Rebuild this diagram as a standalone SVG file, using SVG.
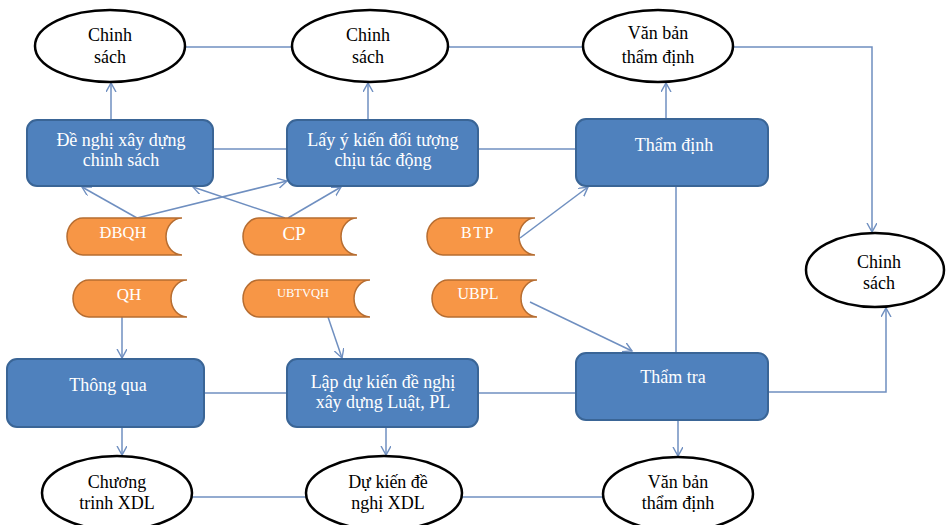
<svg xmlns="http://www.w3.org/2000/svg" width="950" height="525" viewBox="0 0 950 525">
<defs>
<marker id="arr" markerUnits="userSpaceOnUse" markerWidth="12" markerHeight="12" refX="9" refY="5" orient="auto">
<path d="M0,0 L9,5 L0,10" fill="none" stroke="#6F8FC0" stroke-width="1.4"/>
</marker>
<style>
.ell{fill:#fff;stroke:#000;stroke-width:2.5}
.box{fill:#4F81BD;stroke:#3A6596;stroke-width:2}
.org{fill:#F79646;stroke:#B66D31;stroke-width:1.5}
text{font-family:'Liberation Serif','DejaVu Serif',serif;font-size:18px;text-anchor:middle;fill:#000}
text.w{fill:#fff}
.c{fill:none;stroke:#6F8FC0;stroke-width:1.5}
.a{marker-end:url(#arr)}
</style>
</defs>
<rect width="950" height="525" fill="#fff"/>
<g id="connectors">
<line class="c" x1="185" y1="47" x2="292" y2="47"/>
<line class="c" x1="448" y1="47" x2="583" y2="47"/>
<path class="c a" d="M733,47 H872 V232"/>
<line class="c a" x1="111" y1="120" x2="111" y2="83"/>
<line class="c a" x1="368" y1="120" x2="368" y2="83"/>
<line class="c a" x1="666" y1="119" x2="666" y2="83"/>
<line class="c" x1="213" y1="149" x2="287" y2="149"/>
<line class="c" x1="478" y1="149" x2="576" y2="149"/>
<line class="c" x1="676" y1="186" x2="676" y2="353"/>
<line class="c a" x1="137" y1="218" x2="82" y2="187"/>
<line class="c a" x1="137" y1="218" x2="287" y2="181"/>
<line class="c a" x1="285" y1="218" x2="193" y2="187"/>
<line class="c a" x1="288" y1="218" x2="341" y2="187"/>
<line class="c a" x1="520" y1="238" x2="588" y2="187"/>
<line class="c a" x1="530" y1="302" x2="632" y2="351"/>
<line class="c a" x1="122" y1="317" x2="122" y2="358"/>
<line class="c a" x1="328" y1="317" x2="342" y2="358"/>
<line class="c" x1="204" y1="393" x2="287" y2="393"/>
<line class="c" x1="478" y1="393" x2="576" y2="393"/>
<path class="c a" d="M768,392 H886 V308"/>
<line class="c a" x1="122" y1="427" x2="122" y2="455"/>
<line class="c a" x1="386" y1="427" x2="386" y2="455"/>
<line class="c a" x1="678" y1="420" x2="678" y2="456"/>
<line class="c" x1="192" y1="497" x2="306" y2="497"/>
<line class="c" x1="462" y1="497" x2="603" y2="497"/>
</g>
<g id="e1"><ellipse class="ell" cx="110" cy="46" rx="75" ry="36"/><text x="110" y="41">Chinh</text><text x="110" y="63">sách</text></g>
<g id="e2"><ellipse class="ell" cx="370" cy="46" rx="78" ry="36"/><text x="368" y="41">Chinh</text><text x="368" y="63">sách</text></g>
<g id="e3"><ellipse class="ell" cx="658" cy="46" rx="75" ry="36"/><text x="658" y="39">Văn bản</text><text x="658" y="63">thẩm định</text></g>
<g id="e4"><ellipse class="ell" cx="875" cy="270" rx="69" ry="37"/><text x="879" y="268">Chinh</text><text x="879" y="289">sách</text></g>
<g id="b1"><rect class="box" x="27" y="120" width="186" height="66" rx="10"/><text class="w" x="121" y="146">Đề nghị xây dựng</text><text class="w" x="121" y="166">chinh sách</text></g>
<g id="b2"><rect class="box" x="287" y="120" width="191" height="66" rx="10"/><text class="w" x="383" y="146">Lấy ý kiến đối tượng</text><text class="w" x="383" y="166">chịu tác động</text></g>
<g id="b3"><rect class="box" x="576" y="119" width="192" height="67" rx="10"/><text class="w" x="674" y="151">Thẩm định</text></g>
<g id="o1"><path class="org" d="M83,218 H182 A16,18.5 0 0 0 182,255 H83 A16,18.5 0 0 1 83,218 Z"/><text class="w" x="123" y="238" style="font-size:16.5px">ĐBQH</text></g>
<g id="o2"><path class="org" d="M259,218 H357 A16,18.5 0 0 0 357,255 H259 A16,18.5 0 0 1 259,218 Z"/><text class="w" x="294" y="240" style="font-size:19px">CP</text></g>
<g id="o3"><path class="org" d="M443,218 H535 A16,18.5 0 0 0 535,255 H443 A16,18.5 0 0 1 443,218 Z"/><text class="w" x="478" y="238" style="font-size:16px;letter-spacing:1.5px">BTP</text></g>
<g id="o4"><path class="org" d="M89,280 H187 A16,18.5 0 0 0 187,317 H89 A16,18.5 0 0 1 89,280 Z"/><text class="w" x="129" y="300" style="font-size:17px">QH</text></g>
<g id="o5"><path class="org" d="M259,280 H370 A16,18.5 0 0 0 370,317 H259 A16,18.5 0 0 1 259,280 Z"/><text class="w" x="303" y="297" style="font-size:12.5px">UBTVQH</text></g>
<g id="o6"><path class="org" d="M448,280 H537 A16,18.5 0 0 0 537,317 H448 A16,18.5 0 0 1 448,280 Z"/><text class="w" x="478" y="299" style="font-size:16px">UBPL</text></g>
<g id="b4"><rect class="box" x="7" y="359" width="197" height="68" rx="10"/><text class="w" x="108" y="391">Thông qua</text></g>
<g id="b5"><rect class="box" x="287" y="359" width="191" height="68" rx="10"/><text class="w" x="383" y="388">Lập dự kiến đề nghị</text><text class="w" x="383" y="408">xây dựng Luật, PL</text></g>
<g id="b6"><rect class="box" x="576" y="353" width="192" height="67" rx="10"/><text class="w" x="673" y="383">Thẩm tra</text></g>
<g id="e5"><ellipse class="ell" cx="117" cy="493" rx="75" ry="37"/><text x="117" y="488">Chương</text><text x="117" y="509">trinh XDL</text></g>
<g id="e6"><ellipse class="ell" cx="384" cy="493" rx="78" ry="37"/><text x="388" y="488">Dự kiến đề</text><text x="388" y="509">nghị XDL</text></g>
<g id="e7"><ellipse class="ell" cx="678" cy="494" rx="75" ry="37"/><text x="678" y="488">Văn bản</text><text x="678" y="509">thẩm định</text></g>
</svg>
